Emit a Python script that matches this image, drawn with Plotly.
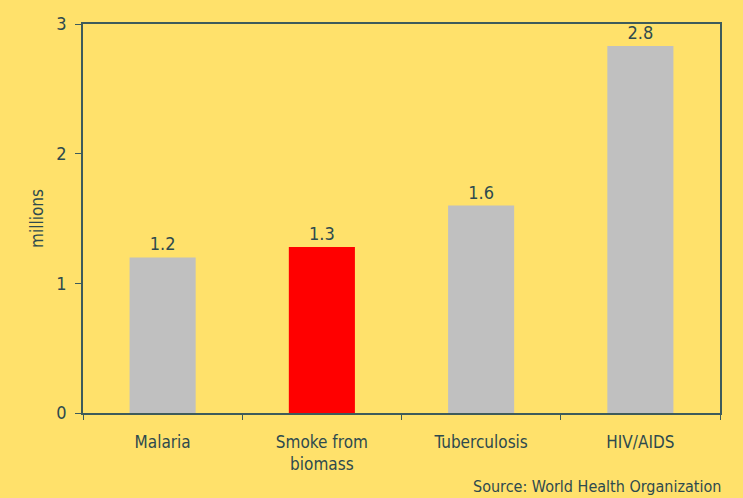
import plotly.graph_objects as go

categories = ["Malaria", "Smoke from<br>biomass", "Tuberculosis", "HIV/AIDS"]
values = [1.2, 1.28, 1.6, 2.83]
labels = ["1.2", "1.3", "1.6", "2.8"]
colors = ["#C0C0C0", "#FF0000", "#C0C0C0", "#C0C0C0"]

BG = "#FFE16B"
AX = "#3E5B5B"
TXT = "#2E4A4E"
FONT = "DejaVu Sans Condensed, DejaVu Sans"

fig = go.Figure(go.Bar(
    x=categories, y=values, marker_color=colors, marker_line_width=0,
    text=labels, textposition="outside", cliponaxis=False,
    textfont=dict(size=18, color=TXT, family=FONT),
))

fig.update_layout(
    width=743, height=498,
    paper_bgcolor=BG, plot_bgcolor=BG,
    margin=dict(l=83, r=23, t=24, b=85),
    bargap=0.585,
    showlegend=False,
    font=dict(family=FONT, size=17, color=TXT),
    xaxis=dict(showline=True, linecolor=AX, linewidth=1.5, mirror=True,
               ticks="outside", tickson="boundaries", ticklen=5, tickcolor=AX,
               ticklabelstandoff=13,
               tickfont=dict(size=17, color=TXT, family=FONT)),
    yaxis=dict(range=[0, 3], tickvals=[0, 1, 2, 3], showgrid=False, zeroline=False,
               showline=True, linecolor=AX, linewidth=1.5, mirror=True,
               ticks="outside", ticklen=6, tickcolor=AX,
               ticklabelstandoff=5,
               tickfont=dict(size=18, color=TXT, family=FONT),
               title=dict(text="millions", font=dict(size=17, color=TXT, family=FONT), standoff=8)),
    annotations=[dict(text="Source: World Health Organization", xref="paper", yref="paper",
                      x=1.005, y=-0.19, xanchor="right", yanchor="middle", showarrow=False,
                      font=dict(size=16, color=TXT, family=FONT))],
)

fig.write_html("out.html")
